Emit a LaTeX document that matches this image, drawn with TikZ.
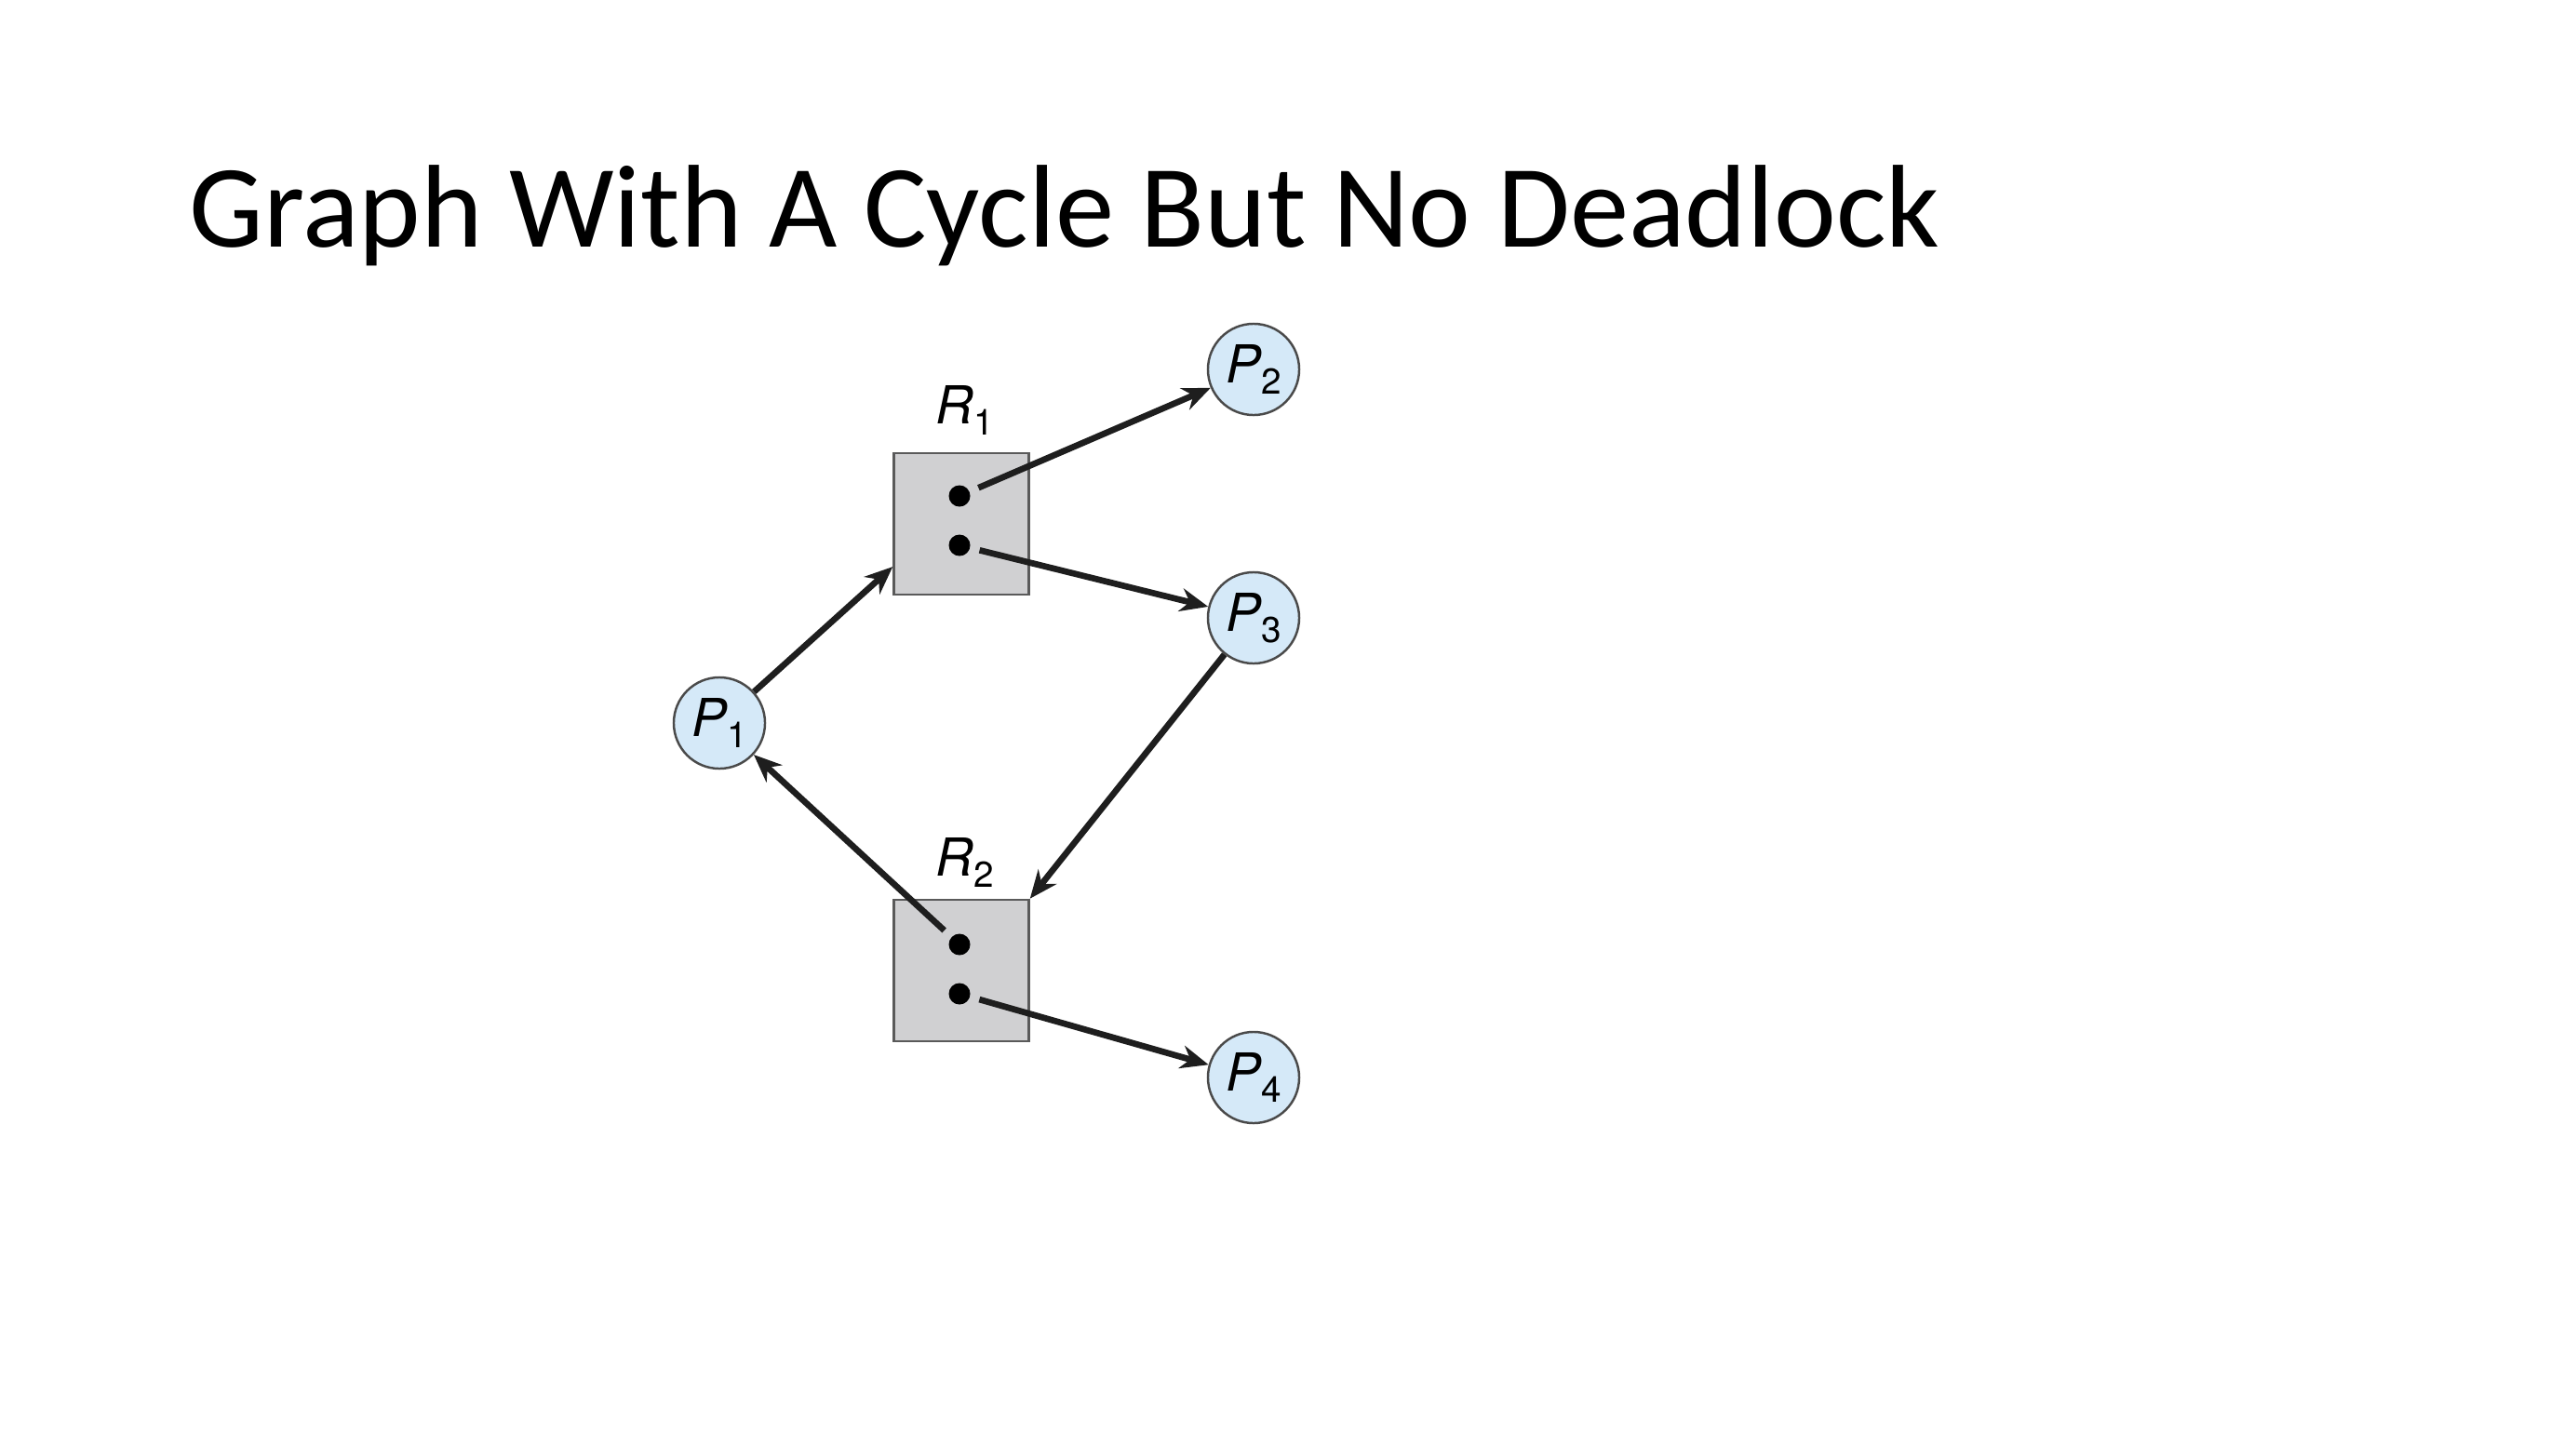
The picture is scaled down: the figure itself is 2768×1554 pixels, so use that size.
\documentclass[tikz,border=0pt]{standalone}
\usepackage{fontspec}
\setmainfont{Carlito}
\newfontfamily\helv{TeX Gyre Heros}
\usetikzlibrary{arrows.meta}
\definecolor{pfill}{HTML}{D5E9F8}
\definecolor{pedge}{HTML}{4A4A4A}
\definecolor{rfill}{HTML}{D0D0D2}
\definecolor{redge}{HTML}{5A5A5A}
\definecolor{arr}{HTML}{1E1E1E}
\newcommand\plab[2]{\textit{#1}\raisebox{-0.4ex}{\fontsize{11}{11}\selectfont #2}}
\begin{document}
\begin{tikzpicture}[x=0.01cm,y=-0.01cm,
 proc/.style={circle, draw=pedge, line width=0.7pt, fill=pfill, minimum size=0.98cm, inner sep=0pt, font=\helv\fontsize{16}{16}\selectfont},
 res/.style={rectangle, draw=redge, line width=0.7pt, fill=rfill, minimum width=1.45cm, minimum height=1.52cm, inner sep=0pt},
 dotnode/.style={circle, fill=black, minimum size=0.23cm, inner sep=0pt},
 rlabel/.style={font=\helv\fontsize{16}{16}\selectfont, inner sep=0pt},
 edge/.style={draw=arr, line width=1.9pt, -{Stealth[length=0.3cm,width=0.25cm]}}
]
\useasboundingbox (0,0) rectangle (2768,1554);
\node[anchor=base west, inner sep=0pt, font=\fontsize{36}{36}\selectfont] (title) at (203,265) {Graph With A Cycle But No Deadlock};

\node[res] (r1) at (1033,563) {};
\node[res] (r2) at (1033,1043) {};
\node[rlabel] (r1l) at (1037,441) {\plab{R}{1}};
\node[rlabel] (r2l) at (1037,927) {\plab{R}{2}};
\node[dotnode] (d11) at (1031,533) {};
\node[dotnode] (d12) at (1031,586) {};
\node[dotnode] (d21) at (1031,1015) {};
\node[dotnode] (d22) at (1031,1068) {};

\node[proc] (p1) at (773,777) {\plab{P}{1}};
\node[proc] (p2) at (1347,397) {\plab{P}{2}};
\node[proc] (p3) at (1347,664) {\plab{P}{3}};
\node[proc] (p4) at (1347,1158) {\plab{P}{4}};

\draw[edge] (p1) -- (r1.212);
\draw[edge, shorten <=0.1cm] (d11) -- (p2);
\draw[edge, shorten <=0.1cm] (d12) -- (p3);
\draw[edge] (p3) -- (r2.north east);
\draw[edge, shorten <=0.1cm] (d21) -- (p1);
\draw[edge, shorten <=0.1cm] (d22) -- (p4);
\end{tikzpicture}
\end{document}
